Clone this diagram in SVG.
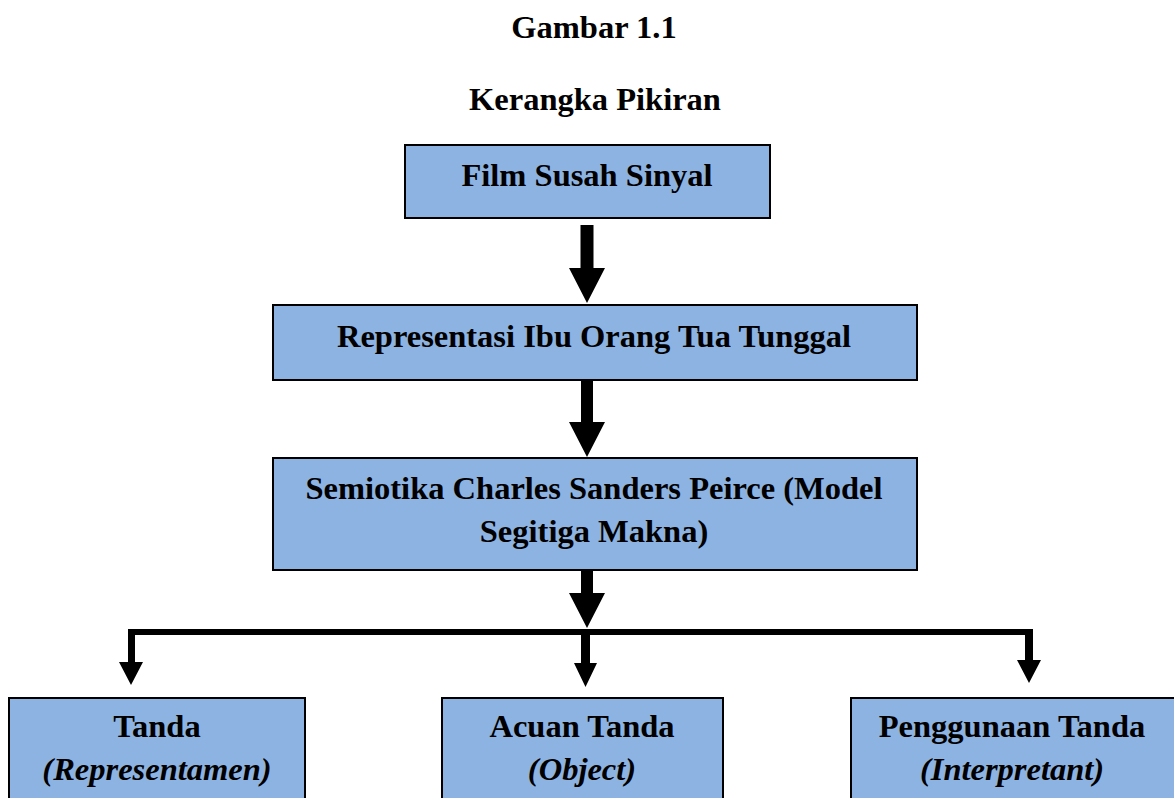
<svg xmlns="http://www.w3.org/2000/svg" width="1174" height="798" viewBox="0 0 1174 798">
<style>
.box{fill:#8DB3E2;stroke:#000;stroke-width:2}
.t{font-family:"Liberation Serif","Times New Roman",serif;font-weight:bold;font-size:32.5px;fill:#000;text-anchor:middle}
.i{font-style:italic}
.c{fill:#000;stroke:none}
</style>
<rect width="1174" height="798" fill="#fff"/>
<g id="title">
<text class="t" x="594" y="38">Gambar 1.1</text>
<text class="t" x="595" y="110">Kerangka Pikiran</text>
</g>
<g id="n1">
<rect class="box" x="405" y="145" width="365" height="73"/>
<text class="t" x="587" y="186">Film Susah Sinyal</text>
</g>
<g id="n2">
<rect class="box" x="273" y="305" width="644" height="75"/>
<text class="t" x="594" y="347">Representasi Ibu Orang Tua Tunggal</text>
</g>
<g id="n3">
<rect class="box" x="273" y="458" width="644" height="112"/>
<text class="t" x="594" y="499">Semiotika Charles Sanders Peirce (Model</text>
<text class="t" x="594" y="542">Segitiga Makna)</text>
</g>
<g id="n4">
<rect class="box" x="9" y="698" width="296" height="110"/>
<text class="t" x="157" y="737">Tanda</text>
<text class="t i" x="157" y="780">(Representamen)</text>
</g>
<g id="n5">
<rect class="box" x="442" y="698" width="281" height="110"/>
<text class="t" x="582" y="737">Acuan Tanda</text>
<text class="t i" x="582" y="780">(Object)</text>
</g>
<g id="n6">
<rect class="box" x="851" y="698" width="330" height="110"/>
<text class="t" x="1012" y="737">Penggunaan Tanda</text>
<text class="t i" x="1012" y="780">(Interpretant)</text>
</g>
<g id="connectors">
<path class="c" d="M580.5,225 H593.5 V268 H605 L587,303 L569,268 H580.5 Z"/>
<path class="c" d="M581,381 H593 V422 H605 L587,457 L569,422 H581 Z"/>
<path class="c" d="M581,571 H593 V593 H605 L587,628 L569,593 H581 Z"/>
<rect class="c" x="128" y="629" width="905" height="6"/>
<path class="c" d="M128,629 H135 V662 H143 L131,685 L119,662 H128 Z"/>
<path class="c" d="M581,633 H590 V663 H597 L585.5,687 L574,663 H581 Z"/>
<path class="c" d="M1025,629 H1033 V660 H1041 L1029,683 L1017,660 H1025 Z"/>
</g>
</svg>
